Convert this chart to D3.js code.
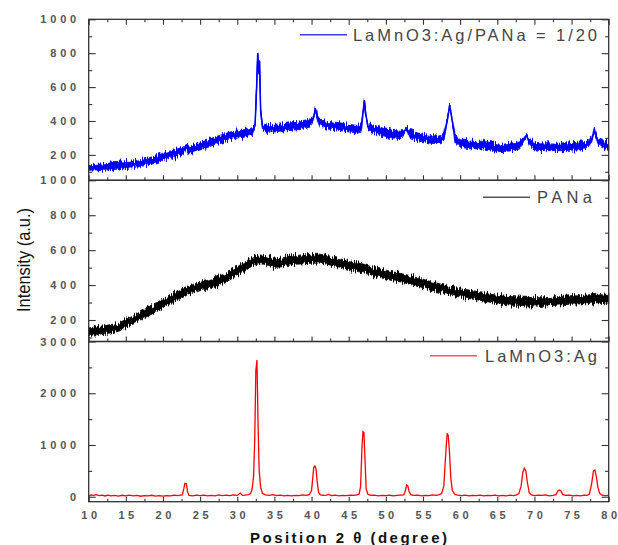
<html>
<script src='https://d3js.org/d3.v7.min.js'></script>
<body style="margin:0; background:#fff;">
<svg width=618 height=545>
  <defs>
    <filter id="rough" x="-1%" y="-30%" width="102%" height="160%" color-interpolation-filters="sRGB">
      <feTurbulence type="fractalNoise" baseFrequency="1.1 0.06" numOctaves="2" seed="4" result="n"/>
      <feColorMatrix in="n" type="matrix" values="0 0 0 0 0.5  0 1 0 0 0  0 0 0 0 0  0 0 0 0 1" result="m"/>
      <feDisplacementMap in="SourceGraphic" in2="m" scale="10" xChannelSelector="R" yChannelSelector="G"/>
    </filter>
  </defs>
</svg>
<script>

// LaMnO3:Ag/PANa = 1/20 (blue): 2theta, centre of the noisy trace, half-height of the noise
var blueX = [10,11,12,13,14,15,16,17,18,19,20,21,22,22.8,23.1,23.4,24,25,26,27,28,29,30,31,32,
  32.4,32.6,32.75,32.9,33,33.15,33.4,34,35,36,37,38,39,39.8,40.3,40.5,40.8,41.2,42,43,44,45,46,
  46.7,46.9,47.1,47.3,47.6,48,49,50,51,52,52.8,53.2,54,55,56,57,57.8,58.3,58.6,58.9,59.3,
  60,61,62,63,64,65,66,67,68,68.6,68.95,69.3,70,71,72,73,74,75,76,77,77.7,78.1,78.5,79,80];
var blueY = [122,125,128,132,136,140,145,152,162,172,188,202,215,228,255,230,235,250,266,284,298,312,320,328,338,
  378,595,800,680,752,455,365,355,358,362,366,370,375,385,425,468,418,385,375,372,365,358,352,
  355,442,522,438,368,358,345,330,322,318,355,325,310,300,292,288,300,412,494,412,300,
  268,260,258,258,252,242,242,248,255,295,318,275,252,248,248,247,248,250,252,258,288,345,282,268,248];
var blueSpread = [19,20,19,21,20,21,20,21,20,22,22,21,22,20,10,20,22,21,23,22,22,23,21,22,21,
  14,5,5,5,5,7,17,22,23,21,23,22,23,21,14,8,14,21,23,22,23,22,23,
  21,8,6,8,18,22,23,22,23,22,12,21,23,22,23,22,21,8,6,8,18,
  22,23,22,23,22,23,22,23,21,12,8,17,22,23,23,22,23,22,23,22,14,8,14,22,23];

// PANa (black)
var blackX = [10,11,12,13,14,15,16,17,18,19,20,21,22,23,24,25,26,27,28,29,30,31,32,33,34,35,36,37,38,39,40,
  41,42,43,44,45,46,47,48,49,50,51,52,53,54,55,56,57,58,59,60,61,62,63,64,65,66,67,68,69,70,
  71,72,73,74,75,76,77,78,79,80];
var blackY = [133,138,145,150,158,180,200,225,248,268,290,318,338,360,378,392,402,418,435,455,480,505,535,548,542,525,530,540,545,548,550,
  552,545,535,525,515,505,495,482,470,460,450,442,432,420,410,395,385,375,365,355,348,342,335,325,318,312,310,308,305,305,
  302,305,310,312,315,315,318,322,325,322];
var blackSpread = [22,23,22,24,23,24,23,24,25,23,25,24,25,23,25,24,25,26,24,25,25,26,25,25,26,24,25,26,25,26,25,
  26,25,25,24,26,25,25,24,25,25,26,24,25,25,24,25,25,24,25,23,25,24,25,23,25,24,25,23,25,24,
  25,23,25,24,25,23,25,24,25,24];

// LaMnO3:Ag (red)
var redX = [10,10.3,10.6,11,11.4,11.8,12.2,12.6,13,13.5,14,14.5,15,15.5,16,16.5,17,17.5,18,18.5,19,19.5,20,20.5,21,21.5,22,22.3,
  22.6,22.8,22.95,23.15,23.3,23.5,24,24.5,25,25.5,26,26.5,27,27.5,28,28.5,29,29.5,30,30.4,30.7,31,31.5,31.8,
  32.0,32.2,32.35,32.5,32.65,32.8,32.95,33.15,33.4,33.8,34.3,34.8,35.3,35.8,36.3,36.8,37.3,37.8,38.3,38.8,39.3,39.7,
  40.0,40.15,40.3,40.45,40.6,40.75,40.95,41.2,41.6,42.0,42.3,42.7,43.2,43.7,44.2,44.7,45.2,45.7,46.1,46.4,
  46.6,46.8,46.92,47.05,47.2,47.35,47.6,48,48.5,49,49.5,50,50.5,51,51.5,52,52.4,52.6,52.8,52.95,53.15,53.4,
  53.8,54.3,54.8,55.3,55.8,56.3,56.8,57.2,57.5,57.8,58.05,58.25,58.4,58.55,58.75,58.95,59.3,59.7,60.2,60.7,
  61.2,61.7,62.2,62.7,63.2,63.7,64.2,64.7,65.2,65.7,66.2,66.7,67.2,67.6,67.9,68.2,68.45,68.65,68.85,69.05,69.3,69.6,
  70,70.5,71,71.5,72,72.5,72.9,73.15,73.35,73.55,73.8,74.2,74.7,75.2,75.7,76.2,76.7,77.1,77.4,77.7,77.95,78.15,
  78.35,78.55,78.8,79.1,79.5,80];
var redY = [10,35,25,40,20,30,15,30,18,25,12,28,15,30,18,25,10,22,15,28,12,20,10,22,18,30,22,30,
  35,150,258,250,100,25,15,30,20,32,15,28,18,35,22,30,20,35,25,70,25,30,40,60,
  150,400,1100,2440,2640,1390,500,180,60,35,25,40,20,30,18,25,15,28,20,35,25,40,
  120,350,570,594,540,300,80,35,25,30,45,22,30,18,28,20,32,25,35,50,
  200,1000,1257,1240,700,150,45,25,30,18,28,20,32,18,25,30,35,100,226,215,90,35,
  25,30,18,28,22,35,25,40,60,200,800,1226,1180,900,350,120,45,30,20,30,
  18,28,22,30,15,25,20,30,18,25,15,30,22,35,60,200,480,549,500,280,80,35,
  20,30,25,35,18,28,40,110,130,115,45,25,30,18,25,15,30,25,50,250,500,516,
  380,180,60,30,20,25];

var xTicks = [10,15,20,25,30,35,40,45,50,55,60,65,70,75,80];
var xMinor = [12.5,17.5,22.5,27.5,32.5,37.5,42.5,47.5,52.5,57.5,62.5,67.5,72.5,77.5];
var topTicks = [200,400,600,800,1000];
var midTicks = [200,400,600,800,1000];
var botTicks = [0,1000,2000,3000];
var legendLabels = ["LaMnO3:Ag/PANa = 1/20", "PANa", "LaMnO3:Ag"];

var svg = d3.select('svg');
var font = "'Liberation Sans', Arial, sans-serif";
var x0 = 88.7, x1 = 608.7;
var x = d3.scaleLinear().domain([10, 80]).range([x0, x1]);

// spaced-out tick digits: width of n bold digits at 11px plus the gaps between them
function spaced(sel, gap) {
  sel.attr('textLength', function() { var n = this.textContent.length; return n * 6.12 + (n - 1) * gap; })
    .attr('lengthAdjust', 'spacing');
}

var panels = [
  {top: 19.3, bottom: 180.3, domain: [50, 1000], ticks: topTicks, minor: d3.range(100, 1001, 100),
   xs: blueX, ys: blueY, sp: blueSpread, color: '#0000ff', legendColor: '#3d3dff',
   label: legendLabels[0], lx: 300, ly: 34.7, tx: 353, tw: 244},
  {top: 180.3, bottom: 341.5, domain: [77, 1000], ticks: midTicks, minor: d3.range(100, 1001, 100),
   xs: blackX, ys: blackY, sp: blackSpread, color: '#000000', legendColor: '#555555',
   label: legendLabels[1], lx: 483, ly: 197.3, tx: 537, tw: 55},
  {top: 341.5, bottom: 501.7, domain: [-96, 3000], ticks: botTicks, minor: d3.range(0, 3001, 500),
   xs: redX, ys: redY, color: '#ff0000', legendColor: '#ff5555',
   label: legendLabels[2], lx: 430, ly: 355.7, tx: 485, tw: 112}
];

panels.forEach(function(p, k) {
  var y = d3.scaleLinear().domain(p.domain).range([p.bottom, p.top]);
  var g = svg.append('g');

  if (p.sp) {
    var pts = p.xs.map(function(d, i) { return [d, p.ys[i], p.sp[i]]; });
    g.append('path')
      .datum(pts)
      .attr('d', d3.area().x(d => x(d[0])).y0(d => y(d[1] - d[2])).y1(d => y(d[1] + d[2])))
      .attr('fill', p.color)
      .attr('stroke', p.color)
      .attr('stroke-width', 0.8)
      .attr('filter', 'url(#rough)');
    g.append('path')
      .datum(pts)
      .attr('d', d3.line().x(d => x(d[0])).y(d => y(d[1])))
      .attr('fill', 'none')
      .attr('stroke', p.color)
      .attr('stroke-width', 1.5);
  } else {
    var pts2 = p.xs.map(function(d, i) { return [d, p.ys[i]]; });
    g.append('path')
      .datum(pts2)
      .attr('d', d3.line().x(d => x(d[0])).y(d => y(d[1])))
      .attr('fill', 'none')
      .attr('stroke', p.color)
      .attr('stroke-width', 1.3);
  }

  // inward ticks
  function tickAxis(axis, tx, ty) {
    var a = svg.append('g').attr('transform', 'translate(' + tx + ',' + ty + ')').call(axis);
    a.select('.domain').remove();
    a.selectAll('line').attr('stroke', '#333').attr('stroke-width', 1.1);
  }
  var minors = p.minor.filter(v => p.ticks.indexOf(v) < 0);
  tickAxis(d3.axisLeft(y).tickValues(p.ticks).tickSize(-7).tickFormat(''), x0, 0);
  tickAxis(d3.axisLeft(y).tickValues(minors).tickSize(-3.5).tickFormat(''), x0, 0);
  tickAxis(d3.axisRight(y).tickValues(p.ticks).tickSize(-7).tickFormat(''), x1, 0);
  tickAxis(d3.axisRight(y).tickValues(minors).tickSize(-3.5).tickFormat(''), x1, 0);
  tickAxis(d3.axisBottom(x).tickValues(xTicks).tickSize(-5).tickFormat(''), 0, p.bottom);
  tickAxis(d3.axisBottom(x).tickValues(xMinor).tickSize(-3).tickFormat(''), 0, p.bottom);
  if (k === 0) {
    tickAxis(d3.axisTop(x).tickValues(xTicks).tickSize(-5.5).tickFormat(''), 0, p.top);
    tickAxis(d3.axisTop(x).tickValues(xMinor).tickSize(-3).tickFormat(''), 0, p.top);
  }

  // left tick labels
  var lab = svg.append('g').attr('transform', 'translate(' + x0 + ',0)')
    .call(d3.axisLeft(y).tickValues(p.ticks).tickSize(0).tickPadding(12.5).tickFormat(d3.format('d')));
  lab.select('.domain').remove();
  lab.selectAll('text')
    .attr('font-family', font).attr('font-size', 11).attr('font-weight', 'bold')
    .attr('fill', '#555').call(spaced, 3.8);

  // frame
  svg.append('rect')
    .attr('x', x0).attr('y', p.top)
    .attr('width', x1 - x0).attr('height', p.bottom - p.top)
    .attr('fill', 'none').attr('stroke', '#333').attr('stroke-width', 1.3);

  // legend
  svg.append('line')
    .attr('x1', p.lx).attr('x2', p.lx + 47).attr('y1', p.ly).attr('y2', p.ly)
    .attr('stroke', p.legendColor).attr('stroke-width', 1.5);
  svg.append('text')
    .attr('x', p.tx).attr('y', p.ly + 6)
    .attr('font-family', font).attr('font-size', 16.5).attr('fill', '#444')
    .attr('textLength', p.tw).attr('lengthAdjust', 'spacing')
    .text(p.label);
});

// x tick labels
var xl = svg.append('g').attr('transform', 'translate(0,501.7)')
  .call(d3.axisBottom(x).tickValues(xTicks).tickSize(0).tickPadding(9.5));
xl.select('.domain').remove();
xl.selectAll('text')
  .attr('font-family', font).attr('font-size', 11).attr('font-weight', 'bold')
  .attr('fill', '#555').call(spaced, 3.6);

// axis titles
svg.append('text')
  .attr('transform', 'translate(29.5,260) rotate(-90)')
  .attr('text-anchor', 'middle')
  .attr('font-family', font).attr('font-size', 18).attr('fill', '#111')
  .attr('textLength', 104).attr('lengthAdjust', 'spacingAndGlyphs')
  .text('Intensity (a.u.)');

svg.append('text')
  .attr('x', 250).attr('y', 543)
  .attr('font-family', font).attr('font-size', 15).attr('font-weight', 'bold').attr('fill', '#111')
  .attr('textLength', 197).attr('lengthAdjust', 'spacing')
  .text('Position 2 θ (degree)');

</script>
</body>
</html>
